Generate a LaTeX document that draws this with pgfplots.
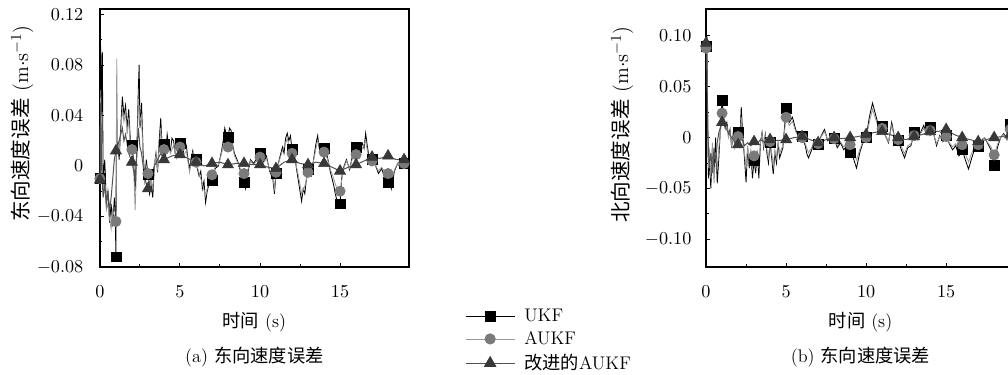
\documentclass[border=0pt]{standalone}
\usepackage{fontspec}
\usepackage{pgfplots}
\usepackage{pgfplotstable}
\pgfplotsset{compat=1.18}
\newfontfamily\cjk{Noto Sans CJK SC}
\definecolor{aukfline}{gray}{0.6}
\definecolor{aukfmark}{gray}{0.48}
\definecolor{impline}{gray}{0.32}
\definecolor{impmark}{gray}{0.22}

\pgfplotstableread{
x y
0.00 0.000
0.05 0.095
0.10 0.040
0.15 0.090
0.20 -0.010
0.30 0.005
0.40 -0.030
0.50 -0.020
0.60 -0.045
0.70 -0.030
0.80 -0.048
0.90 -0.025
0.95 -0.035
1.00 -0.072
1.02 0.010
1.10 0.020
1.20 0.005
1.30 0.030
1.40 0.055
1.50 0.040
1.60 0.048
1.70 0.030
1.80 0.045
1.90 0.020
2.00 0.016
2.10 0.005
2.20 -0.020
2.30 0.010
2.40 0.062
2.45 0.080
2.50 0.030
2.60 0.050
2.70 0.010
2.80 -0.010
2.90 0.005
3.00 -0.007
3.10 -0.022
3.20 -0.015
3.30 -0.025
3.40 0.000
3.50 0.010
3.60 -0.005
3.70 0.020
3.80 0.038
3.90 0.010
4.00 0.017
4.10 0.008
4.20 0.025
4.30 0.015
4.40 0.012
4.50 0.022
4.60 0.020
4.70 0.010
4.80 0.008
4.90 0.015
5.00 0.018
5.10 0.012
5.20 0.010
5.30 0.020
5.40 0.016
5.50 0.005
5.60 -0.002
5.70 0.006
5.80 0.012
5.90 0.002
6.00 0.005
6.10 -0.003
6.20 -0.008
6.30 -0.004
6.40 -0.018
6.50 -0.012
6.60 -0.029
6.70 -0.020
6.80 -0.015
6.90 -0.008
7.00 -0.011
7.20 -0.002
7.40 0.000
7.60 0.012
7.70 0.020
7.80 0.030
7.90 0.024
8.00 0.023
8.10 0.030
8.20 0.028
8.30 0.016
8.40 0.010
8.60 0.004
8.80 -0.005
9.00 -0.013
9.10 -0.018
9.20 -0.008
9.40 0.005
9.60 0.002
9.80 0.006
10.00 0.010
10.20 0.003
10.40 0.008
10.60 -0.004
10.80 -0.010
10.90 -0.022
11.00 -0.006
11.20 0.005
11.40 0.015
11.50 0.010
11.60 0.022
11.70 0.026
11.80 0.020
11.90 0.024
12.00 0.013
12.20 0.005
12.30 -0.004
12.40 -0.012
12.50 -0.020
12.60 -0.028
12.70 -0.018
12.80 -0.022
12.90 -0.010
13.00 -0.003
13.20 -0.008
13.40 0.010
13.50 0.018
13.60 0.024
13.70 0.014
13.80 0.016
14.00 0.015
14.20 0.008
14.40 -0.005
14.60 -0.015
14.70 -0.022
14.80 -0.027
15.00 -0.030
15.10 -0.010
15.20 -0.002
15.40 0.005
15.60 -0.003
15.80 0.010
16.00 0.015
16.20 0.012
16.40 0.018
16.50 0.014
16.60 0.026
16.70 0.016
16.80 0.008
17.00 0.005
17.20 0.001
17.40 -0.006
17.60 -0.002
17.80 -0.010
18.00 -0.013
18.10 -0.010
18.20 -0.018
18.40 -0.004
18.60 0.002
18.80 -0.002
19.00 0.002
19.30 0.000
}\Eukf

\pgfplotstableread{
x y
0.00 -0.010
0.05 0.060
0.10 0.020
0.20 -0.020
0.30 -0.010
0.40 -0.035
0.50 -0.030
0.60 -0.042
0.70 -0.050
0.80 -0.035
0.90 -0.040
1.00 -0.044
1.05 0.085
1.10 0.020
1.20 0.012
1.30 0.025
1.40 0.045
1.50 0.035
1.60 0.042
1.70 0.025
1.80 0.038
1.90 0.015
2.00 0.013
2.10 0.000
2.20 -0.035
2.30 0.005
2.40 0.050
2.50 0.035
2.60 0.040
2.70 0.005
2.80 -0.015
2.90 0.000
3.00 -0.005
3.10 -0.018
3.20 -0.010
3.30 -0.020
3.40 0.002
3.50 0.008
3.60 -0.002
3.70 0.015
3.80 0.030
3.90 0.008
4.00 0.013
4.20 0.020
4.40 0.010
4.60 0.016
4.80 0.006
5.00 0.015
5.20 0.008
5.40 0.012
5.60 -0.005
5.80 0.010
6.00 0.003
6.20 -0.006
6.40 -0.014
6.60 -0.024
6.80 -0.012
7.00 -0.007
7.20 -0.001
7.40 0.001
7.60 0.010
7.80 0.024
8.00 0.015
8.20 0.022
8.40 0.008
8.60 0.003
8.80 -0.003
9.00 -0.006
9.20 -0.005
9.40 0.004
9.60 0.001
9.80 0.004
10.00 0.007
10.20 0.002
10.40 0.006
10.60 -0.003
10.80 -0.008
10.90 -0.018
11.00 -0.005
11.20 0.004
11.40 0.012
11.60 0.018
11.70 0.022
11.80 0.016
12.00 0.010
12.20 0.004
12.40 -0.008
12.60 -0.022
12.80 -0.016
13.00 -0.005
13.20 -0.006
13.40 0.008
13.60 0.020
13.80 0.013
14.00 0.011
14.20 0.006
14.40 -0.003
14.60 -0.010
14.80 -0.018
15.00 -0.020
15.20 -0.003
15.40 0.004
15.60 -0.002
15.80 0.007
16.00 0.009
16.20 0.010
16.40 0.014
16.60 0.020
16.80 0.006
17.00 0.004
17.20 0.001
17.40 -0.004
17.60 -0.001
17.80 -0.005
18.00 -0.006
18.20 -0.012
18.40 -0.003
18.60 0.002
18.80 -0.001
19.00 0.002
19.30 0.000
}\Eaukf

\pgfplotstableread{
x y
0.00 -0.011
0.05 0.050
0.10 0.000
0.20 -0.025
0.30 -0.015
0.40 -0.030
0.50 -0.020
0.60 -0.035
0.70 -0.025
0.80 -0.010
0.90 0.005
1.00 0.012
1.20 0.020
1.40 0.030
1.50 0.020
1.60 0.025
1.80 0.010
2.00 0.003
2.20 -0.010
2.40 0.030
2.50 0.015
2.60 0.010
2.80 -0.010
3.00 -0.018
3.20 -0.008
3.40 0.000
3.60 0.005
3.80 0.010
4.00 0.005
4.50 0.008
5.00 0.009
5.50 0.006
6.00 0.003
6.50 0.000
7.00 0.002
7.50 0.003
8.00 0.001
8.50 0.002
9.00 0.002
9.50 0.001
10.00 0.001
10.50 -0.001
11.00 -0.002
11.50 0.003
12.00 0.005
12.50 0.002
13.00 0.001
13.50 0.003
14.00 0.002
14.50 -0.001
15.00 -0.004
15.50 -0.001
16.00 0.001
16.50 0.004
17.00 0.007
17.50 0.006
18.00 0.008
18.50 0.005
19.00 0.005
19.30 0.003
}\Eimp

\pgfplotstableread{
x u a i
0 -0.010 -0.010 -0.011
1 -0.072 -0.044 0.012
2 0.016 0.013 0.003
3 -0.007 -0.006 -0.018
4 0.017 0.013 0.005
5 0.018 0.015 0.009
6 0.005 0.003 0.003
7 -0.011 -0.007 0.002
8 0.023 0.015 0.001
9 -0.013 -0.006 0.002
10 0.010 0.007 0.001
11 -0.006 -0.005 -0.002
12 0.013 0.010 0.005
13 -0.003 -0.005 0.001
14 0.014 0.011 0.002
15 -0.030 -0.020 -0.004
16 0.015 0.009 0.001
17 0.005 0.004 0.007
18 -0.013 -0.006 0.008
19 0.002 0.002 0.005
}\Emarks

\pgfplotstableread{
x y
0.00 0.090
0.05 0.100
0.10 0.020
0.15 -0.040
0.20 -0.020
0.30 -0.050
0.40 -0.010
0.50 -0.035
0.60 0.000
0.70 -0.045
0.80 -0.020
0.90 0.010
1.00 0.037
1.10 0.020
1.20 0.010
1.30 0.015
1.40 0.002
1.50 0.008
1.60 -0.010
1.70 0.005
1.80 -0.008
1.90 0.003
2.00 0.005
2.10 -0.005
2.20 0.030
2.30 0.000
2.40 -0.020
2.50 -0.044
2.60 -0.010
2.70 -0.030
2.80 -0.015
2.90 -0.040
3.00 -0.022
3.10 -0.035
3.20 -0.015
3.30 -0.040
3.40 -0.005
3.50 0.005
3.60 -0.010
3.70 0.003
3.80 -0.015
3.90 -0.025
4.00 -0.005
4.10 -0.020
4.20 -0.036
4.30 -0.015
4.40 -0.025
4.50 -0.005
4.60 -0.020
4.80 -0.010
5.00 0.029
5.20 0.015
5.40 0.020
5.60 0.008
5.80 0.000
6.00 0.001
6.10 -0.004
6.20 -0.008
6.30 -0.016
6.40 -0.020
6.60 -0.012
6.80 -0.002
7.00 -0.007
7.20 0.002
7.40 0.008
7.60 -0.003
7.80 0.002
8.00 -0.001
8.20 -0.010
8.40 -0.005
8.60 -0.012
8.80 -0.008
9.00 -0.015
9.20 -0.020
9.40 -0.030
9.60 -0.015
9.80 -0.005
10.00 0.000
10.20 0.020
10.40 0.034
10.60 0.022
10.80 0.010
11.00 0.011
11.20 0.002
11.40 -0.005
11.60 0.015
11.80 -0.002
12.00 -0.003
12.20 -0.012
12.40 -0.020
12.60 -0.010
12.80 -0.008
13.00 0.005
13.20 -0.002
13.40 0.005
13.60 0.012
13.80 0.003
14.00 0.010
14.20 0.005
14.40 -0.008
14.60 0.002
14.80 -0.004
15.00 0.002
15.20 -0.006
15.40 -0.012
15.60 -0.008
15.80 -0.018
16.00 -0.012
16.20 -0.022
16.40 -0.031
16.60 -0.020
16.80 -0.010
17.00 -0.009
17.20 -0.003
17.40 0.000
17.60 -0.006
17.80 -0.012
18.00 -0.027
18.20 -0.010
18.40 0.000
18.60 0.004
18.80 -0.002
19.00 0.013
19.30 0.008
}\Nukf

\pgfplotstableread{
x y
0.00 0.088
0.05 0.095
0.10 0.030
0.15 -0.030
0.20 -0.010
0.30 -0.040
0.40 -0.005
0.50 -0.045
0.60 -0.015
0.70 -0.030
0.80 -0.010
0.90 0.005
1.00 0.024
1.10 0.015
1.20 0.008
1.30 0.012
1.40 0.000
1.50 0.006
1.60 -0.008
1.70 0.003
1.80 -0.010
1.90 0.000
2.00 0.001
2.10 -0.008
2.20 0.020
2.30 -0.005
2.40 -0.015
2.50 -0.030
2.60 -0.008
2.70 -0.025
2.80 -0.012
2.90 -0.030
3.00 -0.018
3.10 -0.028
3.20 -0.012
3.30 -0.030
3.40 -0.004
3.50 0.004
3.60 -0.008
3.70 0.002
3.80 -0.012
3.90 -0.020
4.00 -0.005
4.10 -0.015
4.20 -0.028
4.30 -0.012
4.40 -0.020
4.50 -0.004
4.60 -0.015
4.80 -0.008
5.00 0.020
5.20 0.012
5.40 0.016
5.60 0.006
5.80 0.000
6.00 0.000
6.20 -0.006
6.40 -0.015
6.60 -0.010
6.80 -0.002
7.00 -0.006
7.20 0.001
7.40 0.006
7.60 -0.002
7.80 0.001
8.00 -0.001
8.20 -0.008
8.40 -0.004
8.60 -0.009
8.80 -0.006
9.00 -0.007
9.20 -0.014
9.40 -0.022
9.60 -0.012
9.80 -0.004
10.00 0.000
10.20 0.015
10.40 0.028
10.60 0.018
10.80 0.008
11.00 0.009
11.20 0.002
11.40 -0.004
11.60 0.012
11.80 -0.002
12.00 -0.002
12.20 -0.009
12.40 -0.016
12.60 -0.008
12.80 -0.006
13.00 0.002
13.20 -0.002
13.40 0.004
13.60 0.009
13.80 0.002
14.00 0.007
14.20 0.004
14.40 -0.006
14.60 0.001
14.80 -0.003
15.00 0.001
15.20 -0.005
15.40 -0.009
15.60 -0.006
15.80 -0.013
16.00 -0.007
16.20 -0.016
16.40 -0.024
16.60 -0.015
16.80 -0.008
17.00 -0.007
17.20 -0.002
17.40 0.000
17.60 -0.005
17.80 -0.009
18.00 -0.017
18.20 -0.007
18.40 0.000
18.60 0.003
18.80 -0.001
19.00 0.008
19.30 0.005
}\Naukf

\pgfplotstableread{
x y
0.00 0.093
0.05 0.080
0.10 0.010
0.20 -0.030
0.30 -0.015
0.40 -0.035
0.50 -0.010
0.60 -0.025
0.70 -0.005
0.80 0.005
0.90 0.010
1.00 0.015
1.20 0.010
1.40 0.005
1.60 0.000
1.80 -0.004
2.00 -0.007
2.20 0.002
2.40 -0.008
2.60 -0.005
2.80 -0.008
3.00 -0.004
3.20 -0.006
3.40 -0.002
3.60 -0.004
3.80 -0.003
4.00 -0.002
4.50 -0.003
5.00 -0.002
5.50 0.000
6.00 0.001
6.50 -0.002
7.00 -0.005
7.50 -0.002
8.00 0.000
8.50 -0.001
9.00 0.000
9.50 0.001
10.00 0.003
10.50 0.005
11.00 0.006
11.50 0.003
12.00 0.000
12.50 -0.002
13.00 0.001
13.50 0.003
14.00 0.006
14.50 0.006
15.00 0.008
15.50 0.003
16.00 0.000
16.50 -0.002
17.00 -0.004
17.50 -0.002
18.00 0.000
18.50 0.001
19.00 0.003
19.30 0.003
}\Nimp

\pgfplotstableread{
x u a i
0 0.090 0.088 0.093
1 0.037 0.024 0.015
2 0.005 0.001 -0.007
3 -0.022 -0.018 -0.004
4 -0.005 -0.004 -0.002
5 0.029 0.020 -0.002
6 0.001 0.000 0.001
7 -0.007 -0.006 -0.005
8 -0.001 -0.001 0.000
9 -0.015 -0.007 0.000
10 0.000 0.000 0.003
11 0.011 0.009 0.006
12 -0.003 -0.002 0.000
13 0.005 0.002 0.001
14 0.010 0.007 0.006
15 0.002 0.001 0.008
16 -0.012 -0.007 0.000
17 -0.009 -0.007 -0.004
18 -0.027 -0.017 0.000
19 0.013 0.008 0.003
}\Nmarks

\pgfplotsset{
  myaxis/.style={
    scale only axis, width=186.1pt, height=155.4pt,
    anchor=south west,
    xmin=0, xmax=19.3,
    xtick={0,5,10,15}, minor x tick num=1,
    minor y tick num=1,
    scaled y ticks=false,
    tick align=inside, tick pos=left,
    major tick length=2.4pt, minor tick length=1.5pt,
    axis line style={line width=1.1pt},
    every tick/.append style={black, line width=0.6pt},
    xticklabel style={yshift=-7.6pt},
    font=\fontsize{11}{13}\selectfont,
    xlabel={{\cjk 时间} (s)},
    xlabel style={at={(axis description cs:0.5,-0.213)}, anchor=center, font=\fontsize{11}{13}\selectfont},
  },
  ukfl/.style={black, line width=0.5pt, forget plot},
  aukfl/.style={aukfline, line width=0.5pt, forget plot},
  impl/.style={impline, line width=0.6pt, forget plot},
  ukfm/.style={only marks, mark=square*, mark size=3pt, mark options={fill=black, draw=black}, forget plot},
  aukfm/.style={only marks, mark=*, mark size=3.1pt, mark options={fill=aukfmark, draw=aukfmark}, forget plot},
  impm/.style={only marks, mark=triangle*, mark size=3.8pt, mark options={fill=impmark, draw=impmark}, forget plot},
}

\begin{document}
\begin{tikzpicture}
\useasboundingbox (0,0) rectangle (607.2pt,225.3pt);
\clip (0,0) rectangle (607.2pt,225.3pt);

\begin{axis}[myaxis,
  at={(60.2pt,64.5pt)},
  ymin=-0.08, ymax=0.1244,
  ytick={-0.08,-0.04,0,0.04,0.08,0.12},
  yticklabels={$-0.08$,$-0.04$,$0$,$0.04$,$0.08$,$0.12$},
  yticklabel style={xshift=-6.5pt},
  ylabel={{\cjk 东向速度误差} (m$\cdot$s$^{-1}$)},
  ylabel style={at={(axis description cs:-0.2525,0.556)}, anchor=center, font=\fontsize{12.4}{14}\selectfont},
  legend style={draw=none, fill=none, at={(axis description cs:1.165,-0.135)}, anchor=north west,
    font=\fontsize{11}{13}\selectfont, row sep=0.5pt, column sep=3.5pt},
  legend cell align=left,
  legend image code/.code={\draw[mark repeat=2,mark phase=2] plot coordinates {(0pt,0pt) (14.75pt,0pt) (29.5pt,0pt)};},
  after end axis/.code={\node[font=\fontsize{11}{13}\selectfont] at (axis description cs:0.5,-0.349) {(a) {\cjk 东向速度误差}};},
]
\addplot[ukfl] table {\Eukf};
\addplot[aukfl] table {\Eaukf};
\addplot[impl] table {\Eimp};
\addplot[ukfm] table[x=x,y=u] {\Emarks};
\addplot[aukfm] table[x=x,y=a] {\Emarks};
\addplot[impm] table[x=x,y=i] {\Emarks};
\addlegendimage{black, line width=0.5pt, mark=square*, mark size=3pt, mark options={fill=black}}
\addlegendentry{UKF}
\addlegendimage{aukfline, line width=0.5pt, mark=*, mark size=3.1pt, mark options={fill=aukfmark, draw=aukfmark}}
\addlegendentry{AUKF}
\addlegendimage{impline, line width=0.6pt, mark=triangle*, mark size=3.8pt, mark options={fill=impmark, draw=impmark}}
\addlegendentry{{\cjk 改进的}AUKF}
\end{axis}

\begin{axis}[myaxis,
  at={(425.3pt,64.5pt)},
  ymin=-0.1272, ymax=0.1265,
  ytick={-0.10,-0.05,0,0.05,0.10},
  yticklabels={$-0.10$,$-0.05$,$0$,$0.05$,$0.10$},
  yticklabel style={xshift=-5.3pt},
  ylabel={{\cjk 北向速度误差} (m$\cdot$s$^{-1}$)},
  ylabel style={at={(axis description cs:-0.272,0.552)}, anchor=center, font=\fontsize{12.4}{14}\selectfont},
  after end axis/.code={\node[font=\fontsize{11}{13}\selectfont] at (axis description cs:0.5,-0.349) {(b) {\cjk 东向速度误差}};},
]
\addplot[ukfl] table {\Nukf};
\addplot[aukfl] table {\Naukf};
\addplot[impl] table {\Nimp};
\addplot[ukfm] table[x=x,y=u] {\Nmarks};
\addplot[aukfm] table[x=x,y=a] {\Nmarks};
\addplot[impm] table[x=x,y=i] {\Nmarks};
\end{axis}
\end{tikzpicture}
\end{document}
